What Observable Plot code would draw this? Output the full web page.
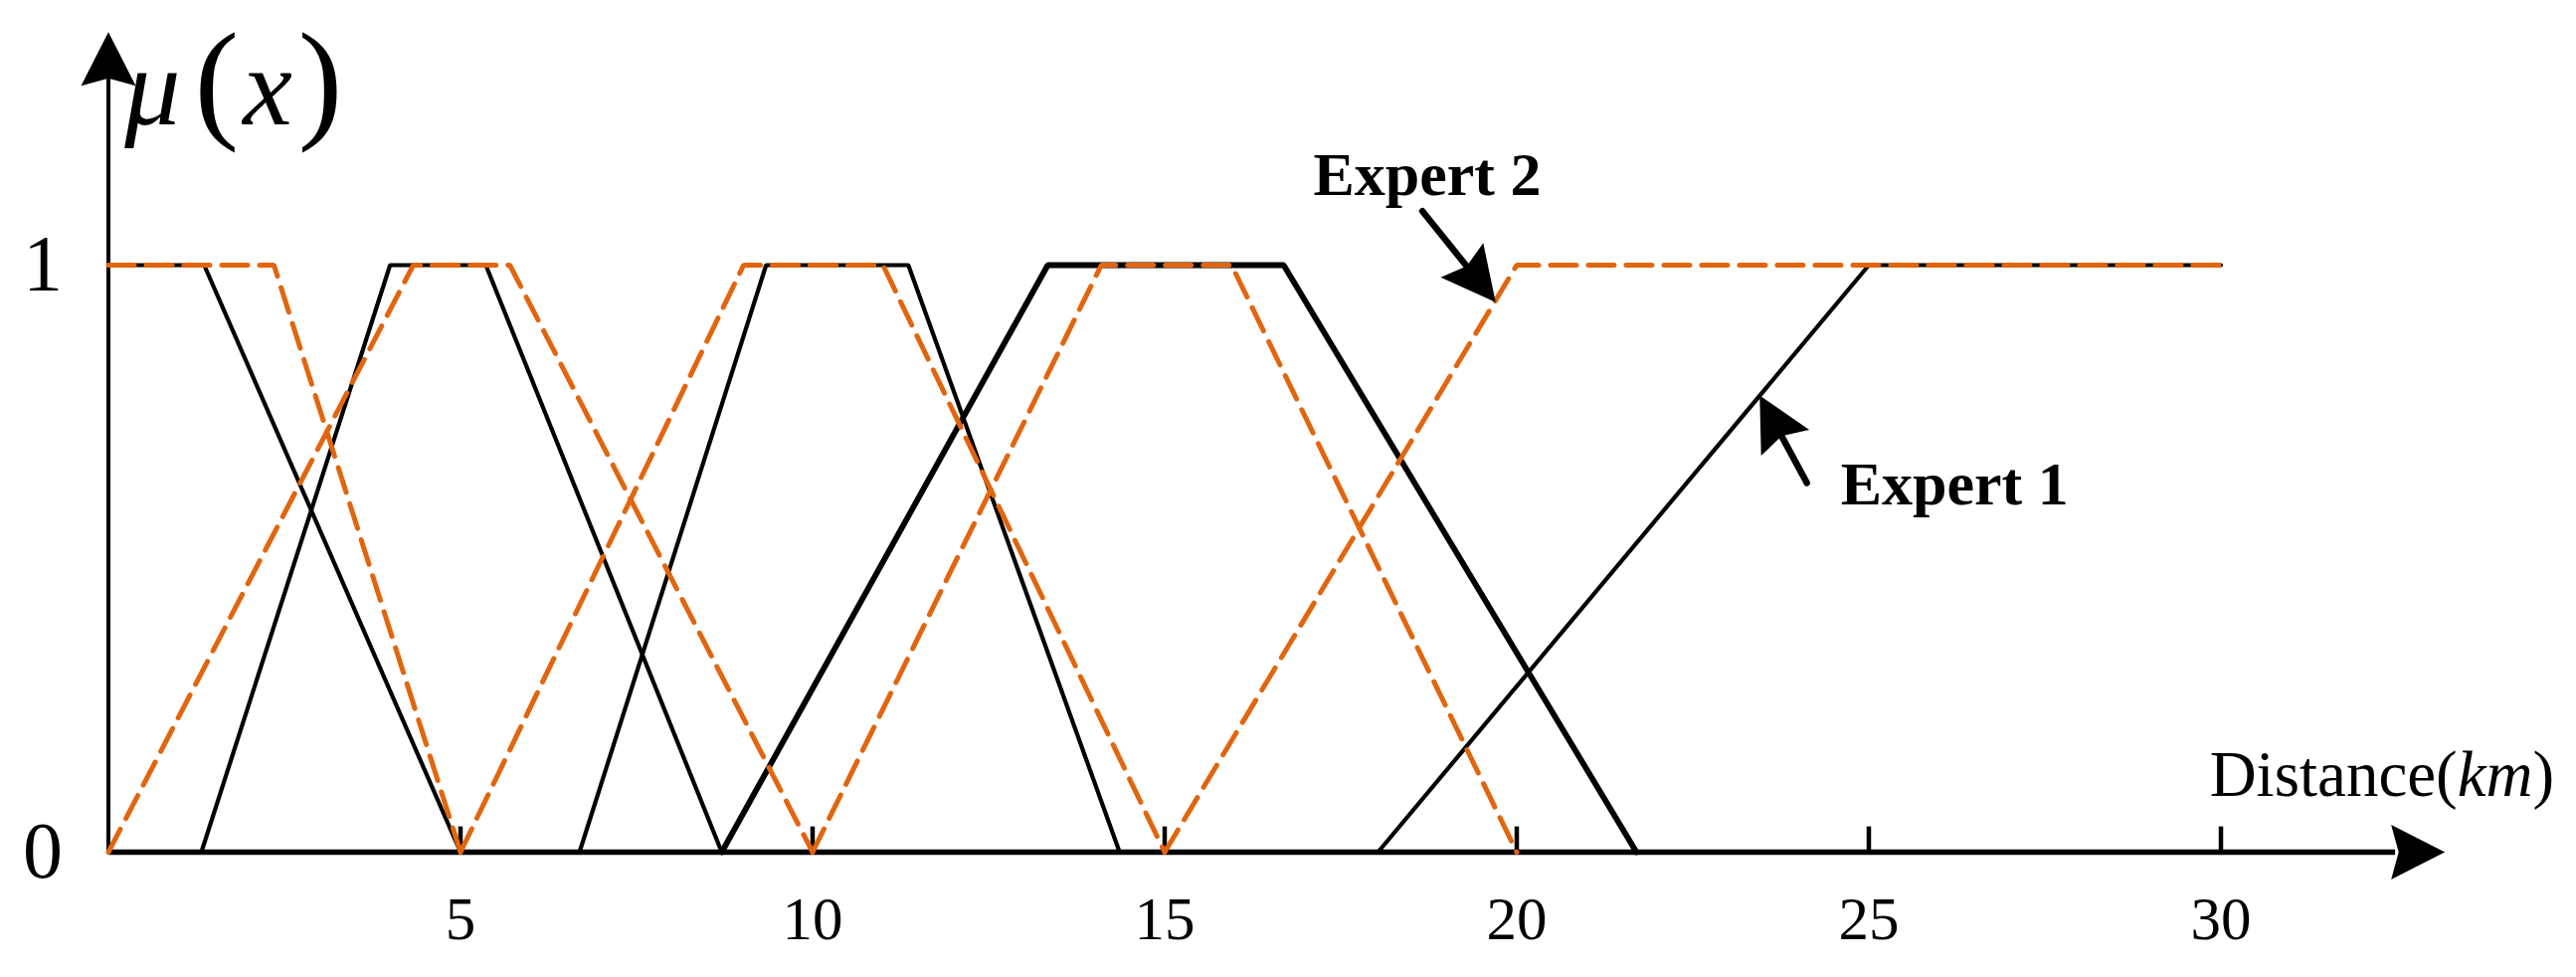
<!DOCTYPE html>
<html>
<head>
<meta charset="utf-8">
<script src="https://cdn.jsdelivr.net/npm/d3@7"></script>
<script src="https://cdn.jsdelivr.net/npm/@observablehq/plot@0.6"></script>
<style>
  html, body { margin: 0; padding: 0; background: #fff; }
  #chart { width: 2590px; height: 982px; }
</style>
</head>
<body>
<div id="chart"></div>
<script>
// ---- data ----
const xTicks = [5, 10, 15, 20, 25, 30];
const yTicks = [0, 1];

// Expert 1 (black, solid): breakpoints of each membership function
const expert1X = [
  [0, 1.36, 5],
  [1.32, 4.0, 5.36, 8.71],
  [6.69, 9.34, 11.36, 14.36],
  [8.71, 13.34, 16.69, 21.7],
  [18.03, 25, 30]
];
const expert1Mu = [
  [1, 1, 0],
  [0, 1, 1, 0],
  [0, 1, 1, 0],
  [0, 1, 1, 0],
  [0, 1, 1]
];
// Expert 2 (orange, dashed)
const expert2X = [
  [0, 2.35, 5],
  [0, 4.33, 5.70, 10],
  [5, 9.02, 11.0, 15],
  [10, 14.1, 15.95, 20],
  [15, 20, 30]
];
const expert2Mu = [
  [1, 1, 0],
  [0, 1, 1, 0],
  [0, 1, 1, 0],
  [0, 1, 1, 0],
  [0, 1, 1]
];
const thickShape = 3;

// axis extents (data units)
const xAxisEnd = 33.18;
const yAxisEnd = 1.397;

// annotations
const expertLabels = ["Expert 2", "Expert 1"];
const expertLabelX = [17.11, 24.60];
const expertLabelY = [1.120, 0.592];
const arrowTailX = [18.66, 24.12];
const arrowTailY = [1.092, 0.629];
const arrowTipX = [19.70, 23.45];
const arrowTipY = [0.937, 0.778];

// ---- build tables ----
function rows(xs, mus, expert) {
  return xs.flatMap((xa, i) => xa.map((x, j) => ({expert, shape: i, x, mu: mus[i][j]})));
}
const e1 = rows(expert1X, expert1Mu, "Expert 1");
const e2 = rows(expert2X, expert2Mu, "Expert 2");

const W = 2590, H = 982;
const mL = 108.5, mR = 357.5, mT = 266, mB = 126;
const xs = d3.scaleLinear([0, 30], [mL, W - mR]);
const ys = d3.scaleLinear([0, 1], [H - mB, mT]);
const angle = (x1, y1, x2, y2) => {
  const dx = xs(x2) - xs(x1), dy = ys(y2) - ys(y1);
  return Math.atan2(dx, -dy) * 180 / Math.PI;
};

const annArrows = expertLabels.map((t, i) => ({
  tx: arrowTailX[i], ty: arrowTailY[i], hx: arrowTipX[i], hy: arrowTipY[i],
  sx: arrowTipX[i] + (arrowTailX[i] - arrowTipX[i]) * 0.3,
  sy: arrowTipY[i] + (arrowTailY[i] - arrowTipY[i]) * 0.3,
  rot: angle(arrowTailX[i], arrowTailY[i], arrowTipX[i], arrowTipY[i])
}));
const axisHeads = [
  {x: xAxisEnd, y: 0, rot: 90},
  {x: 0, y: yAxisEnd, rot: 0}
];
const labels = expertLabels.map((t, i) => ({t, x: expertLabelX[i], y: expertLabelY[i]}));

const arrowHead = {
  draw(ctx) {
    const L = 54, Wd = 55, notch = 0.86;
    ctx.moveTo(0, 0);
    ctx.lineTo(-Wd / 2, L);
    ctx.lineTo(0, L * notch);
    ctx.lineTo(Wd / 2, L);
    ctx.closePath();
  }
};

const serif = "'Liberation Serif', 'Times New Roman', Times, serif";
const orange = "#E2650E";

const plot = Plot.plot({
  width: W, height: H,
  marginLeft: mL, marginRight: mR, marginTop: mT, marginBottom: mB,
  x: {domain: [0, 30]},
  y: {domain: [0, 1]},
  style: {background: "#fff", fontFamily: serif, overflow: "visible"},
  marks: [
    // axes lines
    Plot.ruleY([0], {x1: 0, x2: xAxisEnd - 0.7, stroke: "#000", strokeWidth: 5.5}),
    Plot.ruleX([0], {y1: 0, y2: yAxisEnd - 0.06, stroke: "#000", strokeWidth: 4}),
    Plot.ruleX(xTicks, {y1: 0, y2: 0.043, stroke: "#000", strokeWidth: 4.5}),
    // Expert 1
    Plot.line(e1.filter(d => d.shape !== thickShape), {x: "x", y: "mu", z: "shape", stroke: "#000", strokeWidth: 4.2, strokeLinejoin: "miter"}),
    Plot.line(e1.filter(d => d.shape === thickShape), {x: "x", y: "mu", z: "shape", stroke: "#000", strokeWidth: 5.8, strokeLinejoin: "miter"}),
    // Expert 2
    Plot.line(e2, {x: "x", y: "mu", z: "shape", stroke: orange, strokeWidth: 5, strokeDasharray: "26,12", strokeLinejoin: "miter"}),
    // axis arrow heads
    Plot.dot(axisHeads, {x: "x", y: "y", rotate: "rot", symbol: arrowHead, fill: "#000", stroke: "none", r: 10}),
    // annotation arrows
    Plot.link(annArrows, {x1: "tx", y1: "ty", x2: "sx", y2: "sy", stroke: "#000", strokeWidth: 6.5, strokeLinecap: "round"}),
    Plot.dot(annArrows, {x: "hx", y: "hy", rotate: "rot", symbol: arrowHead, fill: "#000", stroke: "none", r: 10}),
    // annotation labels
    Plot.text(labels, {x: "x", y: "y", text: "t", textAnchor: "start", lineAnchor: "bottom", fontSize: 62, fontWeight: "bold", fontFamily: serif, fill: "#000"}),
    Plot.text(["Distance(km)"], {x: 29.84, y: 0.095, text: d => d, textAnchor: "start", lineAnchor: "bottom", fontSize: 65, fontFamily: serif, fill: "#000", className: "dist-label"}),
    Plot.text(["μ(x)"], {x: 0.23, y: 1.239, text: d => d, textAnchor: "start", lineAnchor: "bottom", fontSize: 112, fontFamily: serif, fill: "#000", className: "mu-label"}),
    // tick labels
    Plot.axisX({ticks: xTicks, tickSize: 0, tickPadding: 44, fontSize: 61, fontFamily: serif, label: null, tickFormat: d => String(d)}),
    Plot.axisY({ticks: yTicks, tickSize: 0, tickPadding: 46, fontSize: 80, fontFamily: serif, label: null, tickFormat: d => String(d)})
  ]
});

document.getElementById("chart").appendChild(plot);

// rich text (italic parts, tall parentheses)
d3.select(plot).select(".dist-label text")
  .html('Distance(<tspan font-style="italic">km</tspan>)');
d3.select(plot).select(".mu-label text")
  .html('<tspan font-style="italic">μ</tspan><tspan dx="14" font-size="134">(</tspan><tspan dx="4" font-style="italic">x</tspan><tspan dx="6" font-size="134">)</tspan>');
</script>
</body>
</html>
